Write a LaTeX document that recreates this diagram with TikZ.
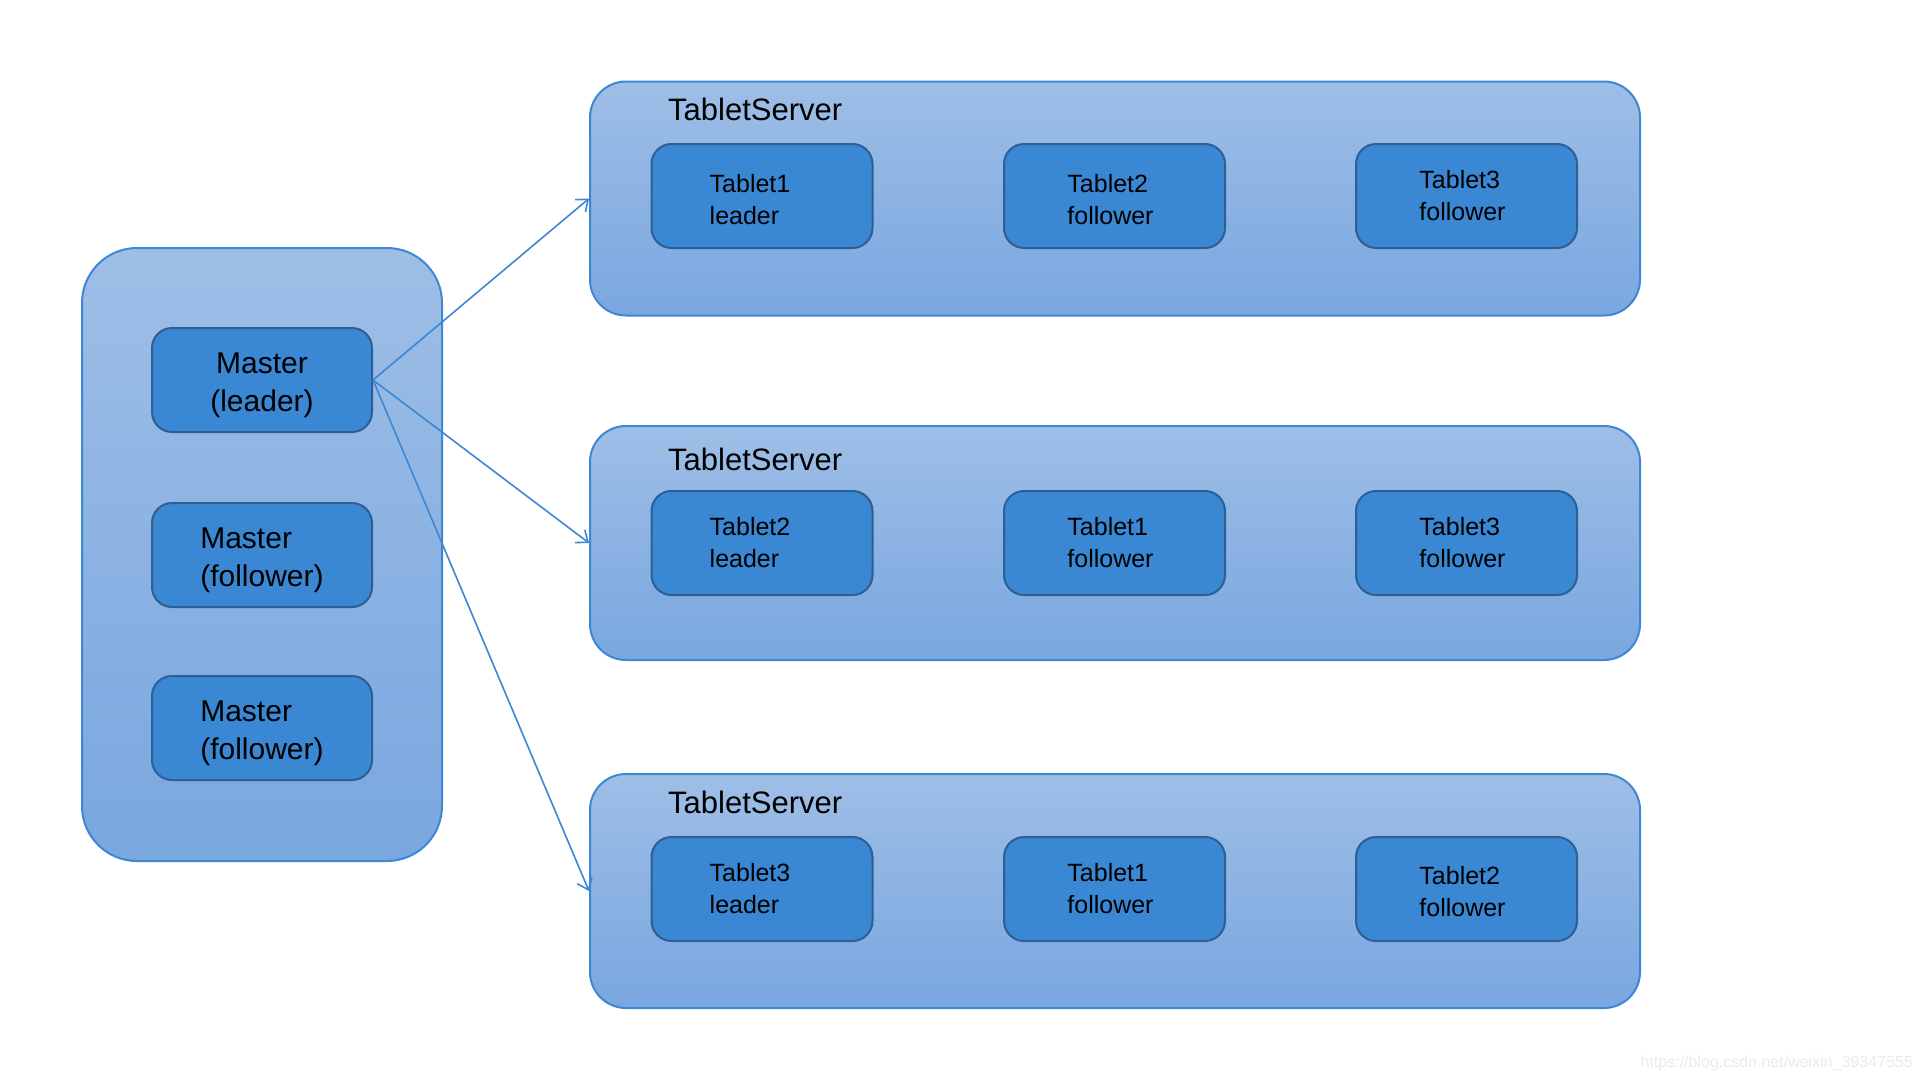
\documentclass[tikz,border=0pt]{standalone}
\usepackage{fontspec}
\setmainfont{Liberation Sans}
\usetikzlibrary{arrows.meta}
\definecolor{edgeblue}{HTML}{3D87D3}
\definecolor{grtop}{HTML}{9EBEE6}
\definecolor{grbot}{HTML}{79A7E0}
\definecolor{innerfill}{HTML}{3A87D3}
\definecolor{innerline}{HTML}{2D5E94}
\definecolor{wmgray}{HTML}{EBEBEB}
\begin{document}
\begin{tikzpicture}[x=1pt,y=-1pt,
  group/.style={draw=edgeblue, line width=2pt, top color=grtop, bottom color=grbot, inner sep=0pt},
  server/.style={group, rounded corners=36pt, minimum width=1050pt, minimum height=234pt},
  tablet/.style={draw=innerline, line width=2pt, fill=innerfill, rounded corners=20pt,
    minimum width=221pt, minimum height=104pt, inner sep=0pt},
  tabtext/.style={inner sep=0pt, align=left, xshift=-4pt,
    font=\fontsize{25pt}{32pt}\selectfont},
  master/.style={draw=innerline, line width=2pt, fill=innerfill, rounded corners=20pt,
    minimum width=220pt, minimum height=104pt, inner sep=0pt},
  mastext/.style={inner sep=0pt, yshift=-5pt, font=\fontsize{30pt}{38pt}\selectfont},
  srvlabel/.style={anchor=base west, inner sep=0pt, font=\fontsize{31pt}{37pt}\selectfont},
  conn/.style={draw=edgeblue, line width=1.6pt, -{Straight Barb[length=10pt,width=16pt]}}
]
\useasboundingbox[fill=white] (0,0) rectangle (1924,1082);

% master group
\node[group, rounded corners=55pt, minimum width=360pt, minimum height=613pt] (mgrp) at (262,554.5) {};
\node[master, label={[mastext, align=center]center:Master\\(leader)}] (ml) at (262,380) {};
\node[master, label={[mastext, align=left]center:Master\\(follower)}] (mf1) at (262,555) {};
\node[master, label={[mastext, align=left]center:Master\\(follower)}] (mf2) at (262,728) {};

% tablet servers
\node[server] (s1) at (1115,198.5) {};
\node[server] (s2) at (1115,543) {};
\node[server] (s3) at (1115,891) {};
\node[srvlabel] (l1) at (668,120) {TabletServer};
\node[srvlabel] (l2) at (668,470) {TabletServer};
\node[srvlabel] (l3) at (668,813) {TabletServer};

% tablets row 1
\node[tablet, label={[tabtext, xshift=-8pt, yshift=-4pt]center:Tablet1\\leader}] (t11) at (762,196) {};
\node[tablet, label={[tabtext, yshift=-4pt]center:Tablet2\\follower}] (t12) at (1114.5,196) {};
\node[tablet, label={[tabtext]center:Tablet3\\follower}] (t13) at (1466.5,196) {};
% row 2
\node[tablet, label={[tabtext, xshift=-8pt]center:Tablet2\\leader}] (t21) at (762,543) {};
\node[tablet, label={[tabtext]center:Tablet1\\follower}] (t22) at (1114.5,543) {};
\node[tablet, label={[tabtext]center:Tablet3\\follower}] (t23) at (1466.5,543) {};
% row 3
\node[tablet, label={[tabtext, xshift=-8pt]center:Tablet3\\leader}] (t31) at (762,889) {};
\node[tablet, label={[tabtext]center:Tablet1\\follower}] (t32) at (1114.5,889) {};
\node[tablet, label={[tabtext, yshift=-3pt]center:Tablet2\\follower}] (t33) at (1466.5,889) {};

% connectors
\draw[conn] (ml.east) -- (s1.west);
\draw[conn] (ml.east) -- (s2.west);
\draw[conn] (ml.east) -- (s3.west);

% watermark
\node[anchor=base east, inner sep=0pt, text=wmgray, font=\fontsize{16pt}{19pt}\selectfont] (wm) at (1913,1067) {https://blog.csdn.net/weixin\_39347555};
\end{tikzpicture}
\end{document}
